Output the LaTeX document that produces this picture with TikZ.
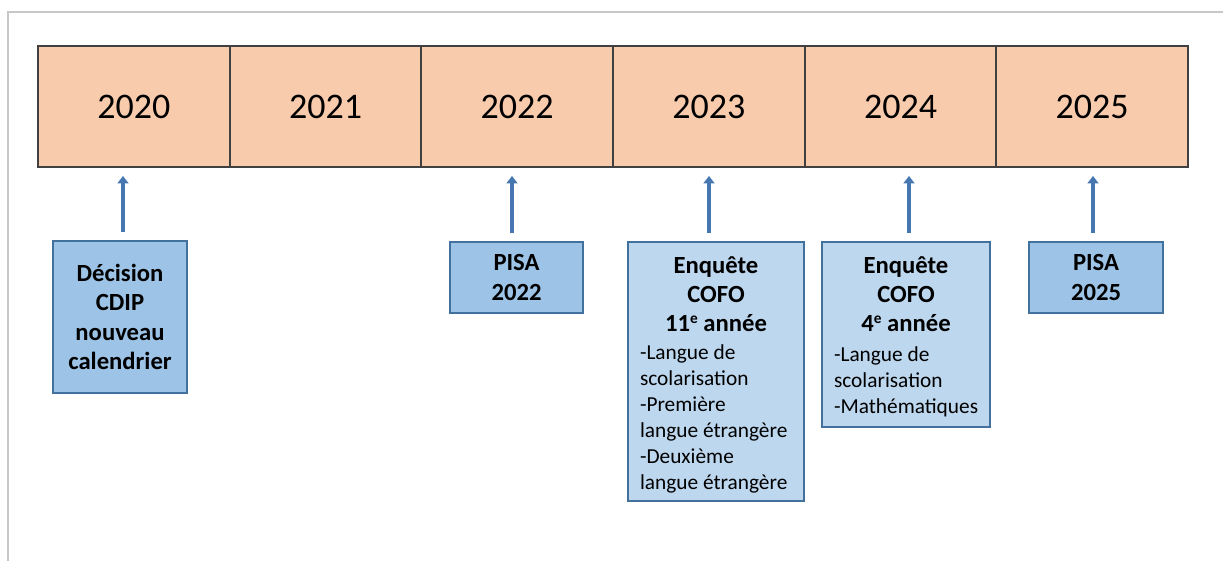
\documentclass[tikz,border=0pt]{standalone}
\usepackage{fontspec}
\setmainfont{Carlito}
\usetikzlibrary{arrows.meta}
\definecolor{peach}{HTML}{F8CBAD}
\definecolor{blueA}{HTML}{9DC3E6}
\definecolor{blueB}{HTML}{BDD7EE}
\definecolor{bord}{HTML}{41719C}
\definecolor{arrc}{HTML}{4677B0}
\definecolor{framec}{HTML}{C8C8C8}
\tikzset{
  frameline/.style={draw=framec, line width=1.1pt},
  yearcell/.style={draw=black!75, line width=1.4pt, fill=peach,
    minimum width=143.75pt, minimum height=90.75pt, inner sep=0pt,
    font=\fontsize{27}{30}\selectfont},
  evbox/.style={draw=bord, line width=1.4pt, fill=blueA, inner sep=0pt,
    align=center, font=\bfseries\fontsize{18.5}{22.5}\selectfont},
  svbox/.style={draw=bord, line width=1.4pt, fill=blueB, inner sep=0pt},
  upar/.style={draw=arrc, line width=3pt,
    -{Triangle[width=8pt,length=5.5pt]},
    shorten <=6pt, shorten >=6pt}
}
\newcommand\headfont{\bfseries\fontsize{18.5}{21.75}\selectfont}
\newcommand\bodyfont{\fontsize{16}{19.5}\selectfont}
\newcommand\supe{\raisebox{0.62ex}{\fontsize{11.5}{12}\selectfont e}}
\begin{document}
\begin{tikzpicture}[x=0.75pt,y=-0.75pt]
\useasboundingbox (0,0) rectangle (1223,561);
\draw[frameline] (1223,12) -- (8,12) -- (8,561);

% timeline
\node[yearcell] (y2020) at (133.83,106.5) {2020};
\node[yearcell] (y2021) at (325.50,106.5) {2021};
\node[yearcell] (y2022) at (517.17,106.5) {2022};
\node[yearcell] (y2023) at (708.83,106.5) {2023};
\node[yearcell] (y2024) at (900.50,106.5) {2024};
\node[yearcell] (y2025) at (1092.17,106.5) {2025};

% event boxes
\node[evbox, minimum width=100.5pt, minimum height=114pt,
  font=\bfseries\fontsize{18.5}{22}\selectfont] (b1) at (120,317)
  {Décision\\CDIP\\nouveau\\calendrier};
\node[evbox, minimum width=99.75pt, minimum height=53.25pt] (b2) at (516.5,277.5)
  {PISA\\2022};
\node[svbox] (b3) at (716,371.5) {\parbox[c][194.25pt][t]{132pt}{%
  \lineskiplimit=-30pt\lineskip=0pt
  {\centering\headfont\rule{0pt}{23.25pt}Enquête\\COFO\\11\supe{} année\par}%
  \vspace{1.5pt}%
  {\raggedright\leftskip=9pt\bodyfont -Langue de\\scolarisation\\-Première\\langue étrangère\\-Deuxième\\langue étrangère\par}}};
\node[svbox] (b4) at (906,334.5) {\parbox[c][138.75pt][t]{126pt}{%
  \lineskiplimit=-30pt\lineskip=0pt
  {\centering\headfont\rule{0pt}{23.25pt}Enquête\\COFO\\4\supe{} année\par}%
  \vspace{3pt}%
  {\raggedright\leftskip=9pt\bodyfont -Langue de\\scolarisation\\-Mathématiques\par}}};
\node[evbox, minimum width=100.5pt, minimum height=53.25pt] (b5) at (1096,277.5)
  {PISA\\2025};

% arrow x positions
\coordinate (a1) at (123,0);
\coordinate (a2) at (512,0);
\coordinate (a3) at (709,0);
\coordinate (a4) at (909,0);
\coordinate (a5) at (1093,0);

\draw[upar] (b1.north -| a1) -- (y2020.south -| a1);
\draw[upar] (b2.north -| a2) -- (y2022.south -| a2);
\draw[upar] (b3.north -| a3) -- (y2023.south -| a3);
\draw[upar] (b4.north -| a4) -- (y2024.south -| a4);
\draw[upar] (b5.north -| a5) -- (y2025.south -| a5);
\end{tikzpicture}
\end{document}
